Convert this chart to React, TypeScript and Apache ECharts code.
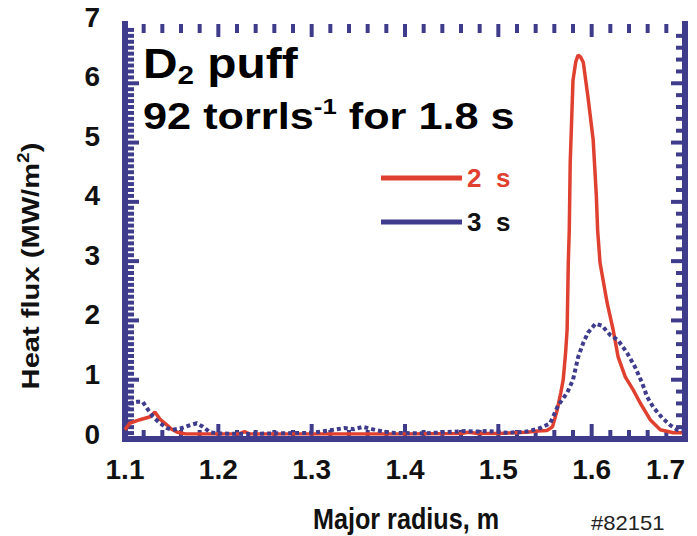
import React, { useEffect, useRef } from "react";
import * as echarts from "echarts";

// Major radius (m) and heat flux (MW/m^2)
const radius2s = [1.100, 1.105, 1.116, 1.127, 1.132, 1.138, 1.145, 1.150, 1.156, 1.165, 1.200, 1.222, 1.228, 1.234, 1.300, 1.400, 1.460, 1.468, 1.478, 1.500, 1.530, 1.542, 1.552, 1.558, 1.563, 1.567, 1.5695, 1.572, 1.5737, 1.575, 1.576, 1.577, 1.580, 1.583, 1.5855, 1.588, 1.591, 1.596, 1.6016, 1.605, 1.6064, 1.609, 1.6166, 1.623, 1.6284, 1.636, 1.6445, 1.652, 1.6627, 1.6735, 1.6874, 1.697];
const flux2s = [0.07, 0.18, 0.24, 0.29, 0.37, 0.24, 0.15, 0.08, 0.03, 0.00, 0.00, 0.00, 0.04, 0.00, 0.00, 0.00, 0.01, 0.03, 0.01, 0.01, 0.03, 0.05, 0.06, 0.12, 0.40, 0.70, 0.91, 1.35, 1.75, 2.90, 3.42, 4.55, 5.94, 6.25, 6.36, 6.33, 6.24, 5.66, 4.94, 4.00, 3.42, 2.87, 2.20, 1.75, 1.29, 0.96, 0.74, 0.52, 0.24, 0.07, 0.02, 0.02];

const radius3s = [1.100, 1.105, 1.113, 1.119, 1.125, 1.130, 1.1375, 1.145, 1.151, 1.161, 1.170, 1.177, 1.1836, 1.191, 1.200, 1.230, 1.260, 1.300, 1.323, 1.335, 1.345, 1.355, 1.370, 1.385, 1.420, 1.466, 1.477, 1.488, 1.510, 1.530, 1.545, 1.5555, 1.564, 1.5737, 1.580, 1.5855, 1.591, 1.596, 1.604, 1.611, 1.620, 1.628, 1.638, 1.6466, 1.654, 1.6595, 1.666, 1.6756, 1.684, 1.6917, 1.700];
const flux3s = [0.29, 0.52, 0.54, 0.54, 0.40, 0.29, 0.18, 0.10, 0.07, 0.10, 0.15, 0.18, 0.12, 0.03, 0.01, 0.00, 0.01, 0.02, 0.07, 0.10, 0.08, 0.12, 0.06, 0.02, 0.01, 0.05, 0.04, 0.05, 0.02, 0.04, 0.10, 0.18, 0.48, 0.69, 0.91, 1.29, 1.53, 1.70, 1.85, 1.82, 1.66, 1.58, 1.36, 1.12, 0.86, 0.62, 0.45, 0.27, 0.15, 0.07, 0.05];

const seriesNames = ["2  s", "3  s"];
const xRange = [1.1, 1.7];
const yRange = [0, 7];
// frame tick spacing: x every 0.02 (major 0.1), left y every 0.1, right y every 0.2 (major 1)
const xTickSteps = 30;
const leftTickSteps = 70;
const rightTickSteps = 35;

const NAVY = "#403c8c";
const RED = "#e0402f";
const BLUE = "#3f3c8e";
const ARIAL = '"Liberation Sans", Arial, Helvetica, sans-serif';
const labelFont = { color: "#111", fontFamily: ARIAL, fontWeight: "bold", fontSize: 28 };

const frameAxis = {
  axisLine: { show: true, lineStyle: { color: NAVY, width: 6, cap: "square" } },
  axisTick: { show: false },
  minorTick: { show: false },
  splitLine: { show: false },
  minorSplitLine: { show: false },
};

export default function App() {
  const ref = useRef<HTMLDivElement>(null);
  useEffect(() => {
    const chart = echarts.init(ref.current!, null, { renderer: "svg" });
    const pairs = (xs: number[], ys: number[]) => xs.map((x, i) => [x, ys[i]]);

    // tick marks: [x, y, side, isMajor]
    const tickData: number[][] = [];
    for (let i = 0; i <= xTickSteps; i++) {
      tickData.push([xRange[0] + (i * (xRange[1] - xRange[0])) / xTickSteps, yRange[0], 0, i % 5 === 0 ? 1 : 0]);
    }
    for (let i = 1; i < leftTickSteps; i++) {
      tickData.push([xRange[0], (i * (yRange[1] - yRange[0])) / leftTickSteps, 1, i % 10 === 0 ? 1 : 0]);
    }
    for (let i = 1; i < rightTickSteps; i++) {
      tickData.push([xRange[1], (i * (yRange[1] - yRange[0])) / rightTickSteps, 2, i % 5 === 0 ? 1 : 0]);
    }

    chart.setOption({
      animation: false,
      backgroundColor: "#ffffff",
      grid: [
        { left: 125, right: 12, top: 17, bottom: 102 },
        { left: 125, right: 12, top: 24, bottom: 97 },
      ],
      xAxis: [
        { gridIndex: 0, type: "value", min: xRange[0], max: xRange[1], show: false },
        {
          gridIndex: 1, type: "value", position: "bottom", min: xRange[0], max: xRange[1], interval: 0.1,
          ...frameAxis,
          axisLabel: { ...labelFont, margin: 16, alignMaxLabel: "right", formatter: (v: number) => v.toFixed(1) },
        },
        {
          gridIndex: 1, type: "value", position: "top", min: xRange[0], max: xRange[1], interval: 0.1,
          ...frameAxis, axisLabel: { show: false },
        },
      ],
      yAxis: [
        {
          gridIndex: 0, type: "value", min: yRange[0], max: yRange[1], interval: 1,
          axisLine: { show: false }, axisTick: { show: false }, splitLine: { show: false },
          axisLabel: { ...labelFont, margin: 25 },
        },
        {
          gridIndex: 1, type: "value", position: "left", min: yRange[0], max: yRange[1], interval: 1,
          ...frameAxis, axisLabel: { show: false },
        },
        {
          gridIndex: 1, type: "value", position: "right", min: yRange[0], max: yRange[1], interval: 1,
          ...frameAxis, axisLabel: { show: false },
        },
      ],
      legend: {
        orient: "vertical", left: 376, top: 159, itemWidth: 81, itemHeight: 5, itemGap: 16,
        icon: "rect",
        textStyle: { fontFamily: ARIAL, fontWeight: "bold", fontSize: 26, lineHeight: 28 },
        data: [
          { name: seriesNames[0], textStyle: { color: RED } },
          { name: seriesNames[1], textStyle: { color: "#111" } },
        ],
      },
      series: [
        {
          type: "custom", xAxisIndex: 1, yAxisIndex: 1, z: 1, silent: true,
          encode: { x: 0, y: 1 },
          data: tickData,
          renderItem: (_params: any, api: any) => {
            const side = api.value(2);
            const major = api.value(3) === 1;
            const p = api.coord([api.value(0), api.value(1)]);
            const style = { stroke: NAVY, lineWidth: 4 };
            if (side === 0) {
              const top = api.coord([api.value(0), yRange[1]]);
              const lb = major ? 15 : 9;
              const lt = major ? 13 : 9;
              return {
                type: "group",
                children: [
                  { type: "line", shape: { x1: p[0], y1: p[1], x2: p[0], y2: p[1] - lb }, style },
                  { type: "line", shape: { x1: top[0], y1: top[1], x2: top[0], y2: top[1] + lt }, style },
                ],
              };
            }
            const len = major ? 14 : 9;
            const dir = side === 1 ? 1 : -1;
            return { type: "line", shape: { x1: p[0], y1: p[1], x2: p[0] + dir * len, y2: p[1] }, style };
          },
        },
        {
          name: seriesNames[0], type: "line", xAxisIndex: 0, yAxisIndex: 0, symbol: "none", showSymbol: false,
          data: pairs(radius2s, flux2s), z: 3,
          lineStyle: { color: RED, width: 3.5 }, itemStyle: { color: RED },
        },
        {
          name: seriesNames[1], type: "line", xAxisIndex: 0, yAxisIndex: 0, symbol: "none", showSymbol: false,
          data: pairs(radius3s, flux3s), z: 4,
          lineStyle: { color: BLUE, width: 4, type: [4, 3], cap: "butt" }, itemStyle: { color: BLUE },
        },
      ],
      graphic: [
        {
          type: "text", x: 143, y: 40, scaleX: 1.14,
          style: {
            text: "{a|D}{b|2}{a| puff}", align: "left", verticalAlign: "top",
            rich: {
              a: { fontFamily: ARIAL, fontWeight: "bold", fontSize: 42, lineHeight: 48, fill: "#000" },
              b: { fontFamily: ARIAL, fontWeight: "bold", fontSize: 26, lineHeight: 12, verticalAlign: "bottom", fill: "#000" },
            },
          },
        },
        {
          type: "text", x: 143, y: 95, scaleX: 1.17,
          style: {
            text: "{c|92 torrls}{d|-1}{c| for 1.8 s}", align: "left", verticalAlign: "top",
            rich: {
              c: { fontFamily: ARIAL, fontWeight: "bold", fontSize: 37, lineHeight: 44, fill: "#000" },
              d: { fontFamily: ARIAL, fontWeight: "bold", fontSize: 22, lineHeight: 31, verticalAlign: "top", fill: "#000" },
            },
          },
        },
        {
          type: "text", x: 31, y: 266, rotation: Math.PI / 2, scaleX: 1.12, scaleY: 0.95,
          style: {
            text: "{e|Heat flux (MW/m}{f|2}{e|)}",
            align: "center", verticalAlign: "middle",
            rich: {
              e: { fontFamily: ARIAL, fontWeight: "bold", fontSize: 26, lineHeight: 32, fill: "#111" },
              f: { fontFamily: ARIAL, fontWeight: "bold", fontSize: 17, lineHeight: 24, verticalAlign: "top", fill: "#111" },
            },
          },
        },
        {
          type: "text", x: 406, y: 519, scaleX: 0.84,
          style: { text: "Major radius, m", fontFamily: ARIAL, fontWeight: "bold", fontSize: 30, fill: "#111", align: "center", verticalAlign: "middle" },
        },
        {
          type: "text", x: 591, y: 523, scaleX: 1.05,
          style: { text: "#82151", fontFamily: ARIAL, fontSize: 21, fill: "#222", align: "left", verticalAlign: "middle" },
        },
      ],
    });
    return () => chart.dispose();
  }, []);
  return <div ref={ref} style={{ position: "fixed", left: 0, top: 0, width: 697, height: 536 }} />;
}
